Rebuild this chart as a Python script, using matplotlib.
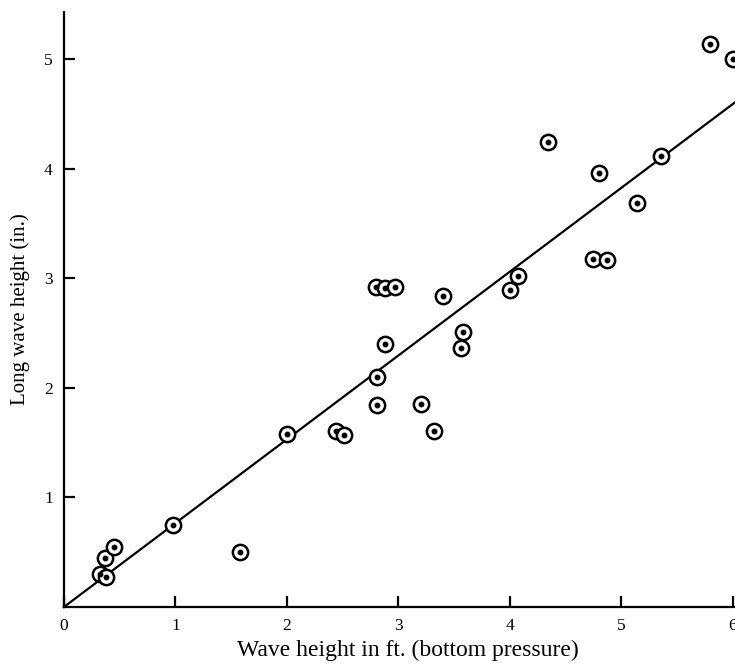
import matplotlib
matplotlib.use("Agg")
import matplotlib.pyplot as plt
import numpy as np

# wave height from bottom pressure (ft) vs long wave height (in.)
x_ft = [0.32, 0.38, 0.37, 0.45, 0.98, 1.58, 2.00, 2.44, 2.51,
        2.80, 2.88, 2.97, 2.88, 2.81, 2.81, 3.20, 3.32, 3.40,
        3.56, 3.58, 4.00, 4.07, 4.34, 4.75, 4.80, 4.87, 5.14,
        5.36, 5.80, 6.00]
y_in = [0.30, 0.27, 0.45, 0.545, 0.75, 0.50, 1.58, 1.61, 1.57,
        2.92, 2.91, 2.92, 2.40, 2.10, 1.84, 1.85, 1.61, 2.84,
        2.36, 2.51, 2.89, 3.02, 4.24, 3.18, 3.96, 3.17, 3.69,
        4.12, 5.14, 5.00]

slope = 0.765
x_ticks = [0, 1, 2, 3, 4, 5, 6]
y_ticks = [1, 2, 3, 4, 5]

plt.rcParams['font.family'] = ['Liberation Serif', 'DejaVu Serif']

fig = plt.figure(figsize=(7.35, 6.67), dpi=100)
ax = fig.add_axes([0.087, 0.09, 0.913, 0.892])

xl = np.array([0, 6.02])
ax.plot(xl, slope * xl, color='black', lw=1.6, clip_on=False)
ax.plot(x_ft, y_in, 'o', ms=11, mfc='white', mec='black', mew=1.8, clip_on=False)
ax.plot(x_ft, y_in, 'o', ms=3.2, color='black', clip_on=False)

ax.set_xlim(0, 6.02)
ax.set_ylim(0, 5.43)
for s in ['top', 'right']:
    ax.spines[s].set_visible(False)
for s in ['left', 'bottom']:
    ax.spines[s].set_linewidth(1.6)

ax.set_xticks(x_ticks)
ax.set_yticks(y_ticks)
ax.tick_params(direction='in', length=8, width=1.6, labelsize=12.5, pad=8)
ax.set_xlabel('Wave height in ft. (bottom pressure)', fontsize=17, labelpad=4)
ax.xaxis.set_label_coords(0.512, -0.055)
ax.set_ylabel('Long wave height (in.)', fontsize=15, labelpad=10)

fig.savefig('out.png', dpi=100)
